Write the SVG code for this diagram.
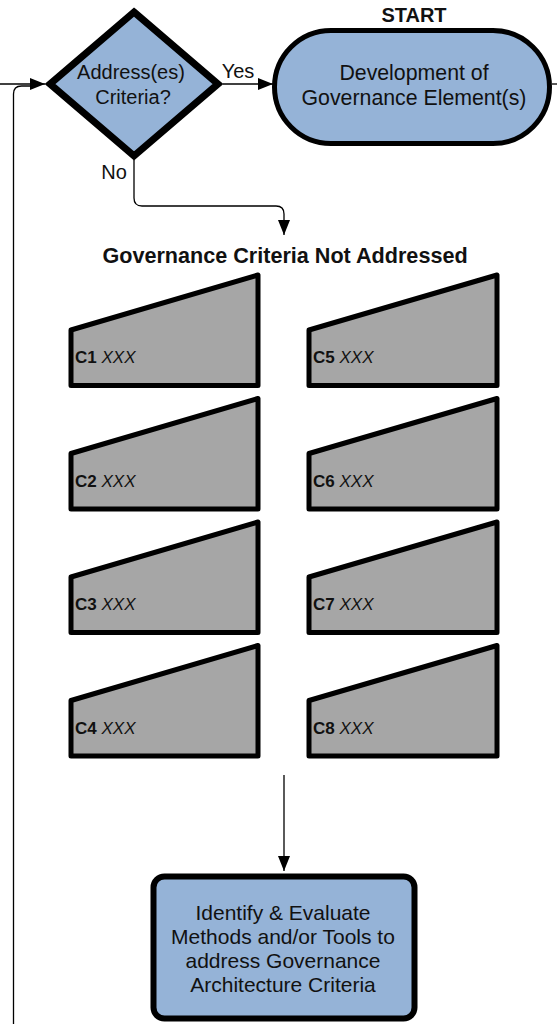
<svg xmlns="http://www.w3.org/2000/svg" width="557" height="1024" viewBox="0 0 557 1024">
<style>
.t{font-family:"Liberation Sans",Arial,sans-serif;fill:#111;text-anchor:middle}
.b{font-weight:bold}
.blue{fill:#95B3D7;stroke:#000}
.crit{fill:#A6A6A6;stroke:#000;stroke-width:5;stroke-linejoin:round}
.cl{font-family:"Liberation Sans",Arial,sans-serif;font-size:17px;fill:#111}
.con{fill:none;stroke:#000;stroke-width:1.3}
</style>
<defs>
<marker id="ah" markerWidth="15" markerHeight="12" refX="15" refY="6" orient="auto" markerUnits="userSpaceOnUse">
<path d="M0,0 L15,6 L0,12 Z" fill="#000"/>
</marker>
</defs>
<g id="connectors">
<path class="con" d="M0,84 H45" marker-end="url(#ah)"/>
<path class="con" d="M13.5,1024 V94 Q13.5,86 21.5,86 H32"/>
<path class="con" d="M223,84 H273" marker-end="url(#ah)"/>
<path class="con" d="M552,84 H557"/>
<path class="con" d="M134,160 V198 Q134,206 142,206 H276 Q284,206 284,214 V235" marker-end="url(#ah)"/>
<path class="con" d="M284,775 V871" marker-end="url(#ah)"/>
</g>
<g id="decision">
<polygon class="blue" stroke-width="7" points="134,12 218,84 134,156 50,84"/>
<text class="t" x="131" y="79" font-size="20">Address(es)</text>
<text class="t" x="133" y="104" font-size="20">Criteria?</text>
</g>
<text class="t" x="238" y="78" font-size="20">Yes</text>
<text class="t" x="114" y="179" font-size="20">No</text>
<g id="start">
<text class="t b" x="414" y="22" font-size="20">START</text>
<rect class="blue" stroke-width="5" x="274.5" y="30.5" width="275" height="113" rx="56.5"/>
<text class="t" x="414" y="80" font-size="21.3">Development of</text>
<text class="t" x="414" y="105" font-size="21.3">Governance Element(s)</text>
</g>
<text class="t b" x="285" y="263" font-size="21.6">Governance Criteria Not Addressed</text>
<g id="C1"><polygon class="crit" points="71,330 258,275 258,385.5 71,385.5"/><text class="cl" x="75" y="363"><tspan font-weight="bold">C1</tspan> <tspan font-style="italic">XXX</tspan></text></g>
<g id="C2"><polygon class="crit" points="71,453.5 258,398.5 258,509 71,509"/><text class="cl" x="75" y="486.5"><tspan font-weight="bold">C2</tspan> <tspan font-style="italic">XXX</tspan></text></g>
<g id="C3"><polygon class="crit" points="71,577 258,522 258,632.5 71,632.5"/><text class="cl" x="75" y="610"><tspan font-weight="bold">C3</tspan> <tspan font-style="italic">XXX</tspan></text></g>
<g id="C4"><polygon class="crit" points="71,700.5 258,645.5 258,756 71,756"/><text class="cl" x="75" y="733.5"><tspan font-weight="bold">C4</tspan> <tspan font-style="italic">XXX</tspan></text></g>
<g id="C5"><polygon class="crit" points="309,330 497,275 497,385.5 309,385.5"/><text class="cl" x="313" y="363"><tspan font-weight="bold">C5</tspan> <tspan font-style="italic">XXX</tspan></text></g>
<g id="C6"><polygon class="crit" points="309,453.5 497,398.5 497,509 309,509"/><text class="cl" x="313" y="486.5"><tspan font-weight="bold">C6</tspan> <tspan font-style="italic">XXX</tspan></text></g>
<g id="C7"><polygon class="crit" points="309,577 497,522 497,632.5 309,632.5"/><text class="cl" x="313" y="610"><tspan font-weight="bold">C7</tspan> <tspan font-style="italic">XXX</tspan></text></g>
<g id="C8"><polygon class="crit" points="309,700.5 497,645.5 497,756 309,756"/><text class="cl" x="313" y="733.5"><tspan font-weight="bold">C8</tspan> <tspan font-style="italic">XXX</tspan></text></g>
<g id="identify">
<rect class="blue" stroke-width="6" x="153.5" y="876.5" width="261" height="142" rx="11"/>
<text class="t" x="283" y="920" font-size="21">Identify &amp; Evaluate</text>
<text class="t" x="283" y="944" font-size="21">Methods and/or Tools to</text>
<text class="t" x="283" y="968" font-size="21">address Governance</text>
<text class="t" x="283" y="992" font-size="21">Architecture Criteria</text>
</g>
</svg>
